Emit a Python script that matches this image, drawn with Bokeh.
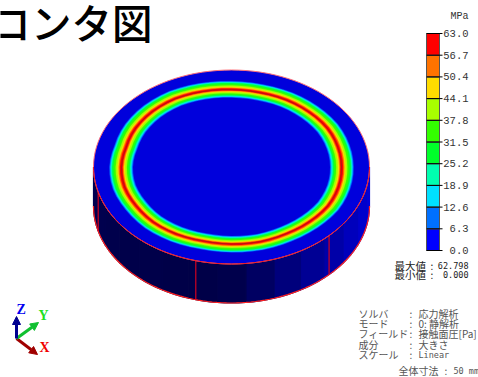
import math
from bokeh.plotting import figure
from bokeh.embed import file_html
from bokeh.resources import INLINE
from bokeh.core.properties import value
from bokeh.models import Arrow, NormalHead, Range1d

# ---- data ----
scale_ticks = [0.0, 6.3, 12.6, 18.9, 25.2, 31.5, 37.8, 44.1, 50.4, 56.7, 63.0]
scale_colors = ["#0000ff", "#0070ff", "#00e0ff", "#00ffb0", "#00ff2a",
                "#33ff00", "#a8ff00", "#ffdc00", "#ff7300", "#ff0000"]

# contact-pressure ring: iso-band radii (px along the long axis of the ellipse), outside to inside
ring_radii = [122.0, 121.0, 120.2, 119.4, 117.8, 115.8, 114.0, 112.8, 111.6,
              108.6, 107.6, 106.4, 104.6, 102.8, 101.4, 100.4, 99.5, 98.5]
ring_colors = ["#0070ff", "#00d8ff", "#00ffb0", "#00ff40", "#33ff00", "#a8ff00", "#ffdc00", "#ff7300", "#ff0000",
               "#ff7300", "#ffdc00", "#a8ff00", "#33ff00", "#00ff40", "#00ffb0", "#00d8ff", "#0070ff", "#0000dc"]
# radial wobble of the band (every 15 degrees, screen clockwise from +x)
ring_wobble = [1.00, 1.005, 1.01, 1.00, 0.995, 1.00, 0.995, 0.99, 1.00, 1.005, 1.00, 1.005,
               1.00, 0.99, 1.005, 1.015, 1.02, 1.01, 1.00, 0.995, 1.00, 1.00, 1.005, 1.00]

# cylinder wall shading, facet per 12 degrees from the right silhouette to the left one
wall_shades = ["#0000d8", "#0000cc", "#0000bc", "#0000a8", "#000094", "#00007c", "#000062", "#00004c",
               "#000048", "#000048", "#00004a", "#00004a", "#00004c", "#00004e", "#000050"]
wall_edges_deg = [45, 105, 165]

info_labels = ["ソルバ", "モード", "フィールド", "成分", "スケール"]
info_values = ["応力解析", "0: 静解析", "接触面圧[Pa]", "大きさ"]
info_scale = "Linear"
max_labels = ["最大値", "最小値"]
max_values = ["62.798", "0.000"]
title_text = "コンタ図"
size_label = "全体寸法"
size_value = "50 mm"
unit = "MPa"

# ---- geometry ----
CX, CY, RX, RY, H = 231.0, 166.5, 138.0, 97.0, 39.0
ASPECT = RX / RY


def ring(r, n=72):
    xs, ys = [], []
    for i in range(n):
        a = 2 * math.pi * i / n
        f = i / n * len(ring_wobble)
        k = int(f)
        w = ring_wobble[k] + (ring_wobble[(k + 1) % len(ring_wobble)] - ring_wobble[k]) * (f - k)
        xs.append(CX + r * w * math.cos(a))
        ys.append(CY + r / ASPECT * w * math.sin(a))
    return xs, ys


p = figure(width=478, height=377, x_range=(0, 478), y_range=(377, 0), toolbar_location=None,
           output_backend="svg", min_border=0, outline_line_color=None, x_axis_location=None,
           y_axis_location=None)
p.grid.visible = False

# wall
n = len(wall_shades)
for i, c in enumerate(wall_shades):
    a0 = math.pi * i / n
    a1 = math.pi * (i + 1) / n
    steps = [a0 + (a1 - a0) * j / 4 for j in range(5)]
    top = [(CX + RX * math.cos(a), CY + RY * math.sin(a)) for a in steps]
    xs = [t[0] for t in top] + [t[0] for t in reversed(top)]
    ys = [t[1] for t in top] + [t[1] + H for t in reversed(top)]
    p.patch(xs, ys, fill_color=c, line_color=c, line_width=1.2)

# outer silhouette of the wall
bot = [math.pi * j / 90 for j in range(91)]
p.line([CX + RX * math.cos(a) for a in bot], [CY + H + RY * math.sin(a) for a in bot],
       line_color="#ff2020", line_width=1.2)
for d in wall_edges_deg:
    a = math.radians(d)
    x = CX + RX * math.cos(a)
    y = CY + RY * math.sin(a)
    p.line([x, x], [y, y + H], line_color="#d00020", line_width=1.2)

# top face
xs = [CX + RX * math.cos(2 * math.pi * i / 120) for i in range(120)]
ys = [CY + RY * math.sin(2 * math.pi * i / 120) for i in range(120)]
p.patch(xs, ys, fill_color="#0000dc", line_color="#ff7078", line_width=1)
front = [math.pi * j / 90 for j in range(91)]
p.line([CX + RX * math.cos(a) for a in front], [CY + RY * math.sin(a) for a in front],
       line_color="#e81828", line_width=1)

for r, c in zip(ring_radii, ring_colors):
    xs, ys = ring(r)
    p.patch(xs, ys, fill_color=c, line_color=c, line_width=0.3)
xs, ys = ring(110.0)
p.patch(xs + xs[:1], ys + ys[:1], fill_color=None, line_color="#a01818", line_width=1, line_alpha=0.75)

# colour scale, on a range of its own so that the values are placed by the library
per_px = scale_ticks[-1] / 217.0
p.extra_y_ranges["scale"] = Range1d(start=-(377 - 250) * per_px, end=250 * per_px)
p.quad(left=426, right=439, bottom=scale_ticks[:-1], top=scale_ticks[1:], fill_color=scale_colors,
       line_color="#555555", line_width=1, y_range_name="scale")
p.segment(x0=426, x1=442, y0=scale_ticks, y1=scale_ticks, line_color="#000000", line_width=1, y_range_name="scale")
mono = value("Liberation Mono")
p.text([468] * 11, scale_ticks, text=["%.1f" % t for t in scale_ticks], text_font=mono, text_font_size="10.5px",
       text_color="#333333", text_baseline="middle", text_align="right", y_range_name="scale")
p.text([468], [16], text=[unit], text_font=mono, text_font_size="10px", text_color="#333333",
       text_baseline="middle", text_align="right")

# title
p.text([-10], [21], text=[title_text], text_font=value("Noto Sans CJK JP Medium, Noto Sans CJK JP"),
       text_font_size="40.5px", text_color="#000000", text_baseline="middle")

# info text
jp = value("Noto Sans CJK JP")
sm = value("DejaVu Sans Mono")
p.text([394, 394], [265, 274], text=max_labels, text_font=jp, text_font_size="10.5px", text_color="#222222",
       text_baseline="middle")
p.text([430, 430], [265, 274], text=[":", ":"], text_font=jp, text_font_size="10px", text_color="#222222",
       text_baseline="middle")
p.text([468, 468], [265, 274], text=max_values, text_font=sm, text_font_size="8.5px", text_color="#222222",
       text_baseline="middle", text_align="right")
iy = [313, 323, 333, 344, 354]
p.text([358] * 5, iy, text=info_labels, text_font=jp, text_font_size="10px", text_color="#555555",
       text_baseline="middle")
p.text([409] * 5, iy, text=[":"] * 5, text_font=jp, text_font_size="10px", text_color="#555555",
       text_baseline="middle")
p.text([418] * 4, iy[:4], text=info_values, text_font=jp, text_font_size="10px", text_color="#555555",
       text_baseline="middle")
p.text([418], [iy[4]], text=[info_scale], text_font=sm, text_font_size="8.5px", text_color="#555555",
       text_baseline="middle")
p.text([398], [370], text=[size_label], text_font=jp, text_font_size="10px", text_color="#555555",
       text_baseline="middle")
p.text([444], [370], text=[":"], text_font=jp, text_font_size="10px", text_color="#555555", text_baseline="middle")
p.text([453], [370], text=[size_value], text_font=sm, text_font_size="8.5px", text_color="#555555",
       text_baseline="middle")

# triad
for x1, y1, c in [(37, 354, "#a00000"), (38, 322, "#10c030"), (16, 316, "#000090")]:
    p.add_layout(Arrow(end=NormalHead(size=8, fill_color=c, line_color=c), x_start=16, y_start=338,
                       x_end=x1, y_end=y1, line_color=c, line_width=3))
serif = value("Liberation Serif")
p.text([16, 38, 39], [309, 315, 347], text=["Z", "Y", "X"], text_font=serif, text_font_style="bold",
       text_font_size="14px", text_color=["#0000f0", "#20e020", "#f00000"], text_baseline="middle")

open("out.html", "w").write(file_html(p, INLINE))
